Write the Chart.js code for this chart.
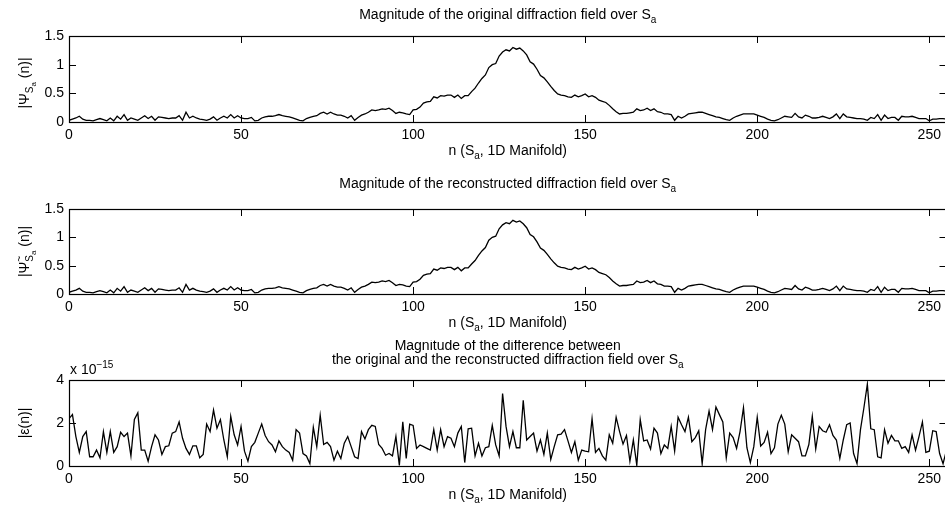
<!DOCTYPE html>
<html>
<head>
<meta charset="utf-8">
<script src="https://cdn.jsdelivr.net/npm/chart.js@4.4.1/dist/chart.umd.min.js"></script>
<style>
  html, body { margin: 0; padding: 0; background: #fff; overflow: hidden; width: 945px; height: 508px; }
  canvas { position: absolute; left: 0; }
</style>
</head>
<body>
<canvas id="c1" width="960" height="170" style="top:0"></canvas>
<canvas id="c2" width="960" height="170" style="top:170px"></canvas>
<canvas id="c3" width="960" height="168" style="top:340px"></canvas>
<script>
// ---------------------------------------------------------------------------
// Data (n = 0..255)
// ---------------------------------------------------------------------------
const xTicks = [0, 50, 100, 150, 200, 250];
const magTicks = [0, 0.5, 1, 1.5];
const diffTicks = [0, 2, 4];          // in units of 1e-15
const DIFF_EXP = '\u221215';

// |Psi_Sa(n)| : original field magnitude
const origMag = [
  0.03, 0.05, 0.07, 0.10, 0.05, 0.03, 0.03, 0.02, 0.04, 0.06,
  0.04, 0.02, 0.07, 0.02, 0.10, 0.05, 0.13, 0.03, 0.07, 0.05,
  0.03, 0.07, 0.11, 0.06, 0.10, 0.03, 0.09, 0.08, 0.07, 0.06,
  0.07, 0.07, 0.11, 0.03, 0.17, 0.07, 0.10, 0.07, 0.05, 0.04,
  0.03, 0.05, 0.09, 0.03, 0.07, 0.10, 0.07, 0.13, 0.07, 0.11,
  0.07, 0.06, 0.06, 0.08, 0.02, 0.03, 0.07, 0.09, 0.10, 0.10,
  0.11, 0.13, 0.11, 0.10, 0.09, 0.07, 0.05, 0.03, 0.02, 0.06,
  0.08, 0.10, 0.11, 0.15, 0.17, 0.14, 0.17, 0.14, 0.12, 0.12,
  0.10, 0.07, 0.11, 0.03, 0.08, 0.12, 0.14, 0.17, 0.21, 0.20,
  0.21, 0.23, 0.22, 0.24, 0.20, 0.15, 0.17, 0.16, 0.14, 0.13,
  0.21, 0.22, 0.26, 0.33, 0.35, 0.36, 0.44, 0.42, 0.46, 0.45,
  0.47, 0.47, 0.43, 0.47, 0.41, 0.46, 0.46, 0.53, 0.59, 0.68,
  0.76, 0.82, 0.95, 1.00, 1.02, 1.15, 1.22, 1.26, 1.24, 1.30,
  1.27, 1.29, 1.24, 1.17, 1.05, 1.01, 0.92, 0.81, 0.77, 0.70,
  0.62, 0.55, 0.49, 0.47, 0.46, 0.44, 0.43, 0.47, 0.44, 0.46,
  0.49, 0.44, 0.46, 0.43, 0.38, 0.36, 0.34, 0.29, 0.23, 0.18,
  0.14, 0.15, 0.15, 0.16, 0.17, 0.23, 0.20, 0.21, 0.24, 0.20,
  0.23, 0.18, 0.17, 0.14, 0.14, 0.13, 0.03, 0.10, 0.07, 0.10,
  0.14, 0.15, 0.16, 0.17, 0.17, 0.15, 0.13, 0.11, 0.09, 0.08,
  0.06, 0.04, 0.03, 0.07, 0.10, 0.12, 0.14, 0.14, 0.14, 0.14,
  0.12, 0.10, 0.08, 0.05, 0.03, 0.02, 0.04, 0.07, 0.10, 0.09,
  0.08, 0.15, 0.09, 0.07, 0.12, 0.10, 0.07, 0.07, 0.08, 0.10,
  0.08, 0.06, 0.09, 0.14, 0.06, 0.14, 0.09, 0.08, 0.07, 0.06,
  0.06, 0.05, 0.03, 0.08, 0.06, 0.13, 0.03, 0.12, 0.06, 0.08,
  0.08, 0.03, 0.10, 0.09, 0.09, 0.10, 0.08, 0.06, 0.06, 0.06,
  0.02, 0.05, 0.05, 0.06, 0.06, 0.05,
];

// reconstruction differs from the original only at the 1e-15 level,
// so at this scale it is the same curve
const reconMag = origMag;

// |eps(n)| x 1e-15 : difference between the two
const diffMag = [
  2.20, 2.39, 1.37, 0.63, 1.37, 1.60, 0.43, 0.43, 0.74, 0.38,
  1.60, 0.63, 1.60, 0.63, 0.90, 1.57, 1.37, 1.53, 0.47, 2.16,
  2.47, 0.74, 0.74, 0.22, 0.90, 1.45, 1.21, 0.54, 0.90, 0.94,
  1.53, 1.60, 2.05, 1.29, 0.82, 0.54, 0.94, 0.94, 0.38, 0.54,
  1.95, 1.60, 2.60, 1.76, 2.16, 1.21, 0.43, 2.31, 1.45, 0.98,
  1.84, 0.69, 0.22, 0.90, 1.10, 1.53, 1.95, 1.42, 1.13, 0.98,
  0.66, 1.17, 0.90, 0.74, 0.63, 0.27, 1.69, 1.53, 0.58, 0.47,
  0.11, 1.80, 0.90, 2.36, 1.00, 1.10, 0.90, 0.27, 0.69, 0.35,
  1.06, 1.37, 0.90, 0.43, 0.35, 1.60, 1.26, 1.69, 1.89, 1.84,
  1.00, 0.82, 0.50, 0.58, 0.47, 1.37, 0.03, 2.05, 0.35, 1.95,
  1.89, 0.82, 0.98, 0.90, 0.82, 0.74, 1.69, 0.74, 1.69, 0.90,
  1.37, 1.29, 0.90, 1.53, 1.84, 0.16, 1.73, 1.76, 0.47, 1.06,
  0.47, 0.85, 0.90, 1.89, 0.98, 0.47, 3.37, 1.84, 0.90, 1.60,
  0.85, 0.85, 3.06, 1.21, 1.37, 1.53, 0.69, 1.21, 0.54, 1.53,
  0.31, 0.90, 1.45, 1.48, 1.69, 1.17, 0.63, 1.13, 0.27, 0.74,
  0.69, 0.66, 2.20, 0.63, 0.82, 0.47, 0.27, 1.45, 1.06, 2.27,
  1.60, 1.02, 1.42, 0.22, 1.21, 0.03, 2.16, 1.17, 1.21, 0.79,
  1.76, 1.53, 0.58, 0.98, 0.82, 1.84, 0.69, 2.27, 1.92, 1.60,
  2.27, 1.13, 1.32, 1.64, 0.11, 1.69, 2.55, 1.69, 2.74, 2.39,
  2.05, 0.38, 1.53, 1.32, 0.82, 1.60, 2.71, 0.85, 0.16, 0.90,
  2.27, 0.93, 1.10, 1.57, 0.58, 0.85, 1.95, 2.36, 1.95, 0.66,
  1.45, 1.29, 1.13, 0.47, 0.47, 1.00, 2.31, 0.79, 1.84, 1.64,
  1.57, 1.92, 1.42, 1.21, 0.35, 1.21, 1.92, 2.00, 0.58, 0.11,
  1.69, 2.71, 3.81, 1.73, 1.69, 0.43, 0.38, 1.69, 1.06, 1.42,
  1.17, 1.17, 0.82, 0.90, 0.63, 1.45, 0.74, 1.37, 2.05, 0.63,
  0.69, 1.64, 1.60, 0.58, 0.11, 0.74,
];

// ---------------------------------------------------------------------------
// Text helpers (matlab-style sub/superscripts)
// ---------------------------------------------------------------------------
const FONT = '"Liberation Sans", Arial, Helvetica, sans-serif';
const LEVELS = {
  0:  { size: 14, dy: 0 },
  1:  { size: 10, dy: 4 },
  2:  { size: 8,  dy: 7 },
  '-1': { size: 10, dy: -6 },
};

// parts: [text, level, noAdvance]
function drawRich(ctx, parts, x, y, align, rot) {
  ctx.save();
  ctx.translate(x, y);
  if (rot) ctx.rotate(rot);
  let w = 0;
  parts.forEach(([t, lvl, stay]) => {
    ctx.font = `${LEVELS[lvl || 0].size}px ${FONT}`;
    if (!stay) w += ctx.measureText(t).width;
  });
  let cx = align === 'left' ? 0 : -w / 2;
  ctx.fillStyle = '#000';
  ctx.textBaseline = 'alphabetic';
  ctx.textAlign = 'left';
  parts.forEach(([t, lvl, stay]) => {
    const L = LEVELS[lvl || 0];
    ctx.font = `${L.size}px ${FONT}`;
    ctx.fillText(t, cx, L.dy);
    if (!stay) cx += ctx.measureText(t).width;
  });
  ctx.restore();
}

// ---------------------------------------------------------------------------
// Plugin: box, inward ticks, titles and labels
// ---------------------------------------------------------------------------
const TICK_LEN = 7;
const decor = {
  id: 'decor',
  afterDraw(chart, args, opts) {
    const ctx = chart.ctx;
    const { left, right, top, bottom } = chart.chartArea;
    const xs = chart.scales.x, ys = chart.scales.y;
    ctx.save();
    ctx.strokeStyle = '#000';
    ctx.lineWidth = 1;
    ctx.beginPath();
    xs.ticks.forEach(t => {
      const px = Math.round(xs.getPixelForValue(t.value)) + 0.5;
      ctx.moveTo(px, bottom); ctx.lineTo(px, bottom - TICK_LEN);
      ctx.moveTo(px, top); ctx.lineTo(px, top + TICK_LEN);
    });
    ys.ticks.forEach(t => {
      const py = Math.round(ys.getPixelForValue(t.value)) + 0.5;
      ctx.moveTo(left, py); ctx.lineTo(left + TICK_LEN, py);
      ctx.moveTo(right, py); ctx.lineTo(right - TICK_LEN, py);
    });
    ctx.stroke();
    ctx.lineWidth = 1.2;
    ctx.strokeRect(Math.round(left) + 0.5, Math.round(top) + 0.5,
      Math.round(right - left), Math.round(bottom - top));
    ctx.restore();

    const midX = (left + right) / 2;
    opts.title.forEach((line, i) => drawRich(ctx, line, midX, opts.titleY + i * 14, 'center'));
    drawRich(ctx, opts.xlabel, midX, bottom + 33, 'center');
    drawRich(ctx, opts.ylabel, opts.ylabelX, (top + bottom) / 2 + opts.ylabelDy, 'center', -Math.PI / 2);
    if (opts.exponent) drawRich(ctx, opts.exponent, left + 1, top - 6, 'left');
  },
};

const XLABEL = [['n (S', 0], ['a', 1], [', 1D Manifold)', 0]];

function makeChart(id, values, yTicks, yMax, pad, xAxisH, deco) {
  const pts = values.map((v, i) => ({ x: i, y: v }));
  return new Chart(document.getElementById(id), {
    type: 'line',
    data: { datasets: [{
      data: pts,
      borderColor: '#000',
      borderWidth: 1.3,
      pointRadius: 0,
      tension: 0,
      fill: false,
    }] },
    options: {
      responsive: false,
      animation: false,
      events: [],
      layout: { padding: { top: pad, left: 0, right: 13.5, bottom: 0 } },
      scales: {
        x: {
          type: 'linear', min: 0, max: 255,
          afterBuildTicks: s => { s.ticks = xTicks.map(v => ({ value: v })); },
          afterFit: s => { s.height = xAxisH; },
          grid: { display: false, drawTicks: false },
          border: { display: false },
          ticks: { padding: 5, autoSkip: false, maxRotation: 0, color: '#000',
                   font: { size: 14 }, callback: v => String(v) },
        },
        y: {
          type: 'linear', min: 0, max: yMax,
          afterBuildTicks: s => { s.ticks = yTicks.map(v => ({ value: v })); },
          afterFit: s => { s.width = 69; },
          grid: { display: false, drawTicks: false },
          border: { display: false },
          ticks: { padding: 5, autoSkip: false, color: '#000',
                   font: { size: 14 }, callback: v => String(v) },
        },
      },
      plugins: { legend: { display: false }, tooltip: { enabled: false }, decor: deco },
    },
    plugins: [decor],
  });
}

Chart.defaults.font.family = FONT;
Chart.defaults.color = '#000';

makeChart('c1', origMag, magTicks, 1.5, 36, 48, {
  title: [[['Magnitude of the original diffraction field over S', 0], ['a', 1]]],
  titleY: 19,
  xlabel: XLABEL,
  ylabel: [['|\u03A8', 0], ['S', 1], ['a', 2], [' (n)|', 0]],
  ylabelX: 29, ylabelDy: 4,
});

makeChart('c2', reconMag, magTicks, 1.5, 39, 46, {
  title: [[['Magnitude of the reconstructed diffraction field over S', 0], ['a', 1]]],
  titleY: 18,
  xlabel: XLABEL,
  ylabel: [['|\u03A8', 0], ['~', -1, true], ['S', 1], ['a', 2], [' (n)|', 0]],
  ylabelX: 29, ylabelDy: 0,
});

makeChart('c3', diffMag, diffTicks, 4, 40, 42, {
  title: [
    [['Magnitude of the difference between', 0]],
    [['the original and the reconstructed diffraction field over S', 0], ['a', 1]],
  ],
  titleY: 10,
  xlabel: XLABEL,
  ylabel: [['|\u03B5(n)|', 0]],
  ylabelX: 29, ylabelDy: 0,
  exponent: [['x 10', 0], [DIFF_EXP, -1]],
});
</script>
</body>
</html>
